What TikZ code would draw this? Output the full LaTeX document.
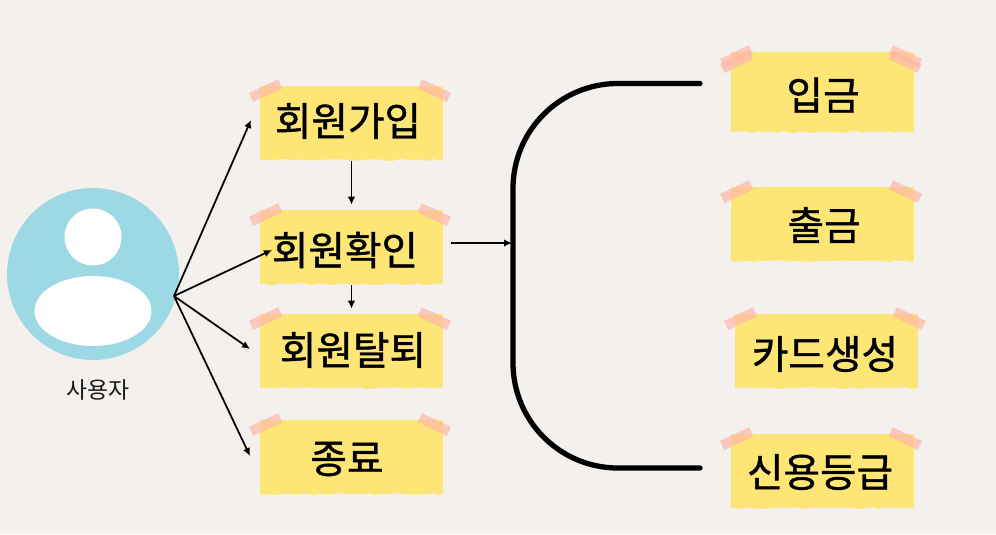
\documentclass[tikz,border=0pt]{standalone}
\usepackage{fontspec}
\setmainfont{Noto Sans CJK KR}
\newfontfamily\notefont[FakeBold=1.1]{Noto Sans CJK KR}
\usetikzlibrary{arrows.meta}
\usetikzlibrary{shapes.geometric}
\usetikzlibrary{decorations.pathmorphing}
\definecolor{paper}{HTML}{F3F0ED}
\definecolor{noteyellow}{HTML}{FDE675}
\definecolor{tapepink}{HTML}{FFB8A8}
\definecolor{userblue}{HTML}{9DD9E5}
\tikzset{
    note/.style = {fill=noteyellow, minimum width=3.66cm, minimum height=1.5cm, inner sep=0pt},
    notetext/.style = {font=\notefont\fontsize{22.6}{26}\selectfont, text=black, inner sep=0pt},
    tape/.style = {fill=tapepink, fill opacity=0.7, minimum width=0.64cm, minimum height=0.2cm, inner sep=0pt},
    torn/.style = {draw=paper, line width=0.8pt, decorate, decoration={random steps, segment length=3pt, amplitude=0.6pt}},
    link/.style = {-{Latex[length=1.6mm, width=1.5mm]}, line width=1pt, black},
    bracket/.style = {line width=3pt, line cap=round, black, rounded corners=2.1cm}
}
\pgfmathsetseed{7}
\begin{document}
\begin{tikzpicture}[x=0.02cm, y=-0.02cm]
    \fill[paper] (0,0) rectangle (996,534);
    % user icon
    \node[circle, fill=userblue, minimum size=3.44cm, inner sep=0pt] (user) at (93,274) {};
    \node[circle, fill=white, minimum size=1.14cm, inner sep=0pt] (head) at (93,237) {};
    \node[ellipse, fill=white, minimum width=2.34cm, minimum height=1.4cm, inner sep=0pt] (body) at (93,311) {};
    \node[font=\fontsize{13}{15}\selectfont, text=black!90, inner sep=0pt] (userlabel) at (98,390) {사용자};
    % left notes
    \node[note] (join) at (351.5,123.5) {};
    \node[note] (check) at (351.5,247.5) {};
    \node[note] (leave) at (351.5,351.5) {};
    \node[note] (quit) at (351.5,457.5) {};
    % right notes
    \node[note, minimum height=1.62cm] (deposit) at (822.5,92.5) {};
    \node[note] (withdraw) at (822.5,224.5) {};
    \node[note] (card) at (826.5,351.5) {};
    \node[note] (credit) at (822.5,471.5) {};
    % torn lower edges and tape
    \foreach \n in {join,check,leave,quit,deposit,withdraw,card,credit} {
        \draw[torn] ([yshift=0.3pt]\n.south west) -- ([yshift=0.3pt]\n.south east);
        \node[tape, rotate=25] at ([xshift=0.12cm, yshift=-0.1cm]\n.north west) {};
        \node[tape, rotate=-25] at ([xshift=-0.18cm, yshift=-0.1cm]\n.north east) {};
    }
    % second strip on the first note
    \node[tape, rotate=25] at ([xshift=0.12cm, yshift=-0.2cm]deposit.north west) {};
    \node[tape, rotate=-25] at ([xshift=-0.18cm, yshift=-0.2cm]deposit.north east) {};
    % labels
    \node[notetext] (joinT) at (348,121) {회원가입};
    \node[notetext] (checkT) at (345,250) {회원확인};
    \node[notetext] (leaveT) at (353,350) {회원탈퇴};
    \node[notetext] (quitT) at (347,459) {종료};
    \node[notetext] (depositT) at (823,95) {입금};
    \node[notetext] (withdrawT) at (824,225) {출금};
    \node[notetext] (cardT) at (825,354) {카드생성};
    \node[notetext] (creditT) at (820,472) {신용등급};
    % arrows from the user
    \coordinate (userR) at (174,296);
    \coordinate (toJoin) at (251,120);
    \coordinate (toCheck) at (272,250);
    \coordinate (toLeave) at (250,349);
    \coordinate (toQuit) at (250,456);
    \foreach \e in {toJoin,toCheck,toLeave,toQuit}
        \draw[link] (userR) -- (\e);
    % arrows between notes
    \draw[link, shorten >=0.1cm] (join) -- (check);
    \draw[link, shorten >=0.1cm] (check) -- (leave);
    % bracket
    \coordinate (outCheck) at (451,243);
    \coordinate (inBracket) at (512,243);
    \draw[link] (outCheck) -- (inBracket);
    \coordinate (brA) at (700,83.5);
    \coordinate (brB) at (513,83.5);
    \coordinate (brC) at (513,468);
    \coordinate (brD) at (700,468);
    \draw[bracket] (brA) -- (brB) -- (brC) -- (brD);
\end{tikzpicture}
\end{document}
